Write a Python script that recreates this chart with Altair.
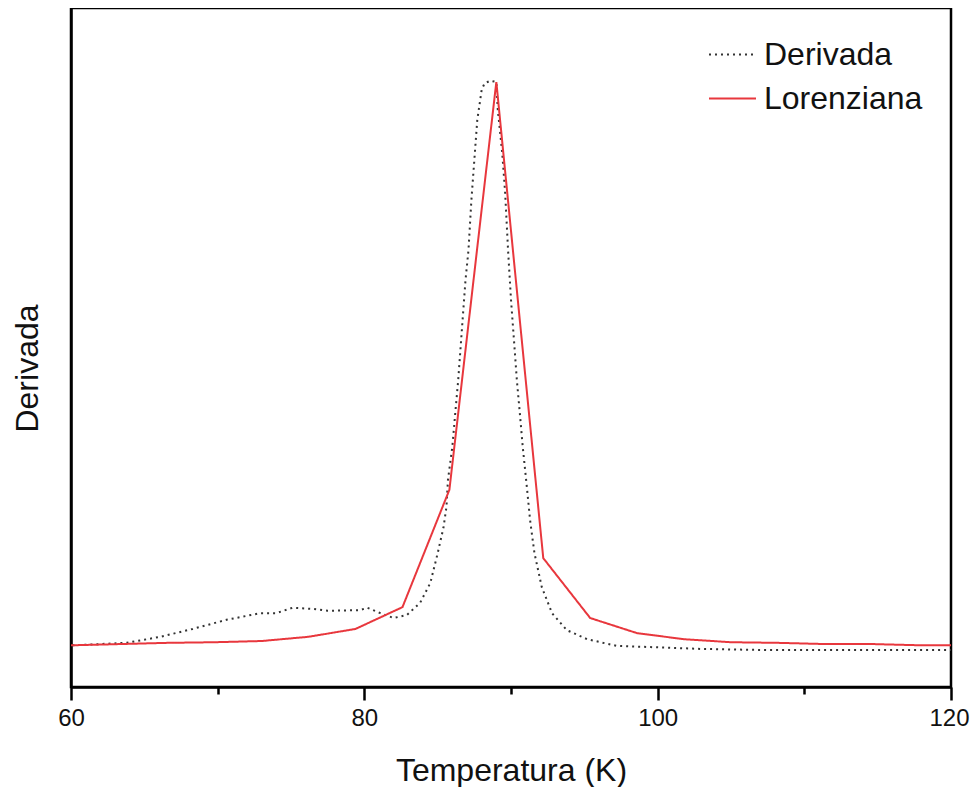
import altair as alt
import pandas as pd

# Derivada (dotted black)
der_t = [60.1, 62.0, 63.8, 66.1, 68.3, 70.6, 72.9, 74.0, 75.1, 76.5, 77.5, 79.7, 80.2,
         81.1, 82.0, 82.9, 83.8, 84.5, 85.0, 85.4, 85.6, 85.7, 86.0, 86.2, 86.4, 86.7,
         86.9, 87.1, 87.3, 87.5, 87.7, 88.0, 88.2, 88.6, 89.0, 89.1, 89.4, 89.6, 89.8,
         90.0, 90.2, 90.4, 90.6, 90.8, 91.1, 91.3, 91.6, 92.1, 92.8, 93.8, 95.2, 97.2,
         99.5, 102.9, 107.5, 112.0, 116.5, 120.0]
der_v = [0.069, 0.071, 0.073, 0.083, 0.096, 0.111, 0.122, 0.122, 0.131, 0.129, 0.126,
         0.127, 0.131, 0.122, 0.114, 0.119, 0.139, 0.172, 0.221, 0.264, 0.298, 0.342,
         0.397, 0.453, 0.507, 0.607, 0.673, 0.722, 0.805, 0.871, 0.937, 0.987, 0.998,
         1.002, 1.000, 0.954, 0.883, 0.817, 0.722, 0.640, 0.574, 0.507, 0.453, 0.397,
         0.326, 0.276, 0.221, 0.165, 0.122, 0.094, 0.079, 0.068, 0.066, 0.063, 0.061,
         0.061, 0.061, 0.061]

# Lorenziana (red)
lor_t = [57.0, 60.2, 63.4, 66.6, 69.8, 73.0, 76.2, 79.4, 82.6, 85.8, 89.0, 92.2, 95.4,
         98.6, 101.8, 105.0, 108.2, 111.4, 114.6, 117.8, 121.0]
lor_v = [0.068, 0.069, 0.071, 0.073, 0.074, 0.076, 0.083, 0.096, 0.132, 0.326, 1.000,
         0.213, 0.114, 0.089, 0.079, 0.074, 0.073, 0.071, 0.071, 0.069, 0.069]

series_names = ["Derivada", "Lorenziana"]
series_colors = ["#333333", "#e8373d"]
series_dash = [[2, 4], [1, 0]]

x_ticks = [60, 70, 80, 90, 100, 110, 120]

df = pd.concat([
    pd.DataFrame({"T": der_t, "v": der_v, "serie": "Derivada", "o": range(len(der_t))}),
    pd.DataFrame({"T": lor_t, "v": lor_v, "serie": "Lorenziana", "o": range(len(lor_t))}),
])

FONT = "Liberation Sans"

chart = alt.Chart(df).mark_line(strokeWidth=2, clip=True).encode(
    x=alt.X("T:Q",
            scale=alt.Scale(domain=[60, 120], nice=False, zero=False),
            axis=alt.Axis(values=x_ticks, title="Temperatura (K)",
                          labelExpr="datum.value % 20 === 0 ? datum.label : ''",
                          tickSize={"condition": {"test": "datum.value % 20 === 0", "value": 13}, "value": 7},
                          labelOffset={"condition": {"test": "datum.value === 120", "value": -2}, "value": 0},
                          labelPadding=6, labelFontSize=24, titleFontSize=32,
                          titleBaseline="alphabetic", titleY=93,
                          labelFlush=False, labelOverlap=False, grid=False)),
    y=alt.Y("v:Q",
            scale=alt.Scale(domain=[0, 1.1223], nice=False, zero=False),
            axis=alt.Axis(title="Derivada", labels=False, ticks=False, grid=False,
                          titleFontSize=32, titleBaseline="alphabetic",
                          titleX=-34, titleY=360)),
    color=alt.Color("serie:N", scale=alt.Scale(domain=series_names, range=series_colors),
                    legend=alt.Legend(title=None, orient="none", legendX=637, legendY=22,
                                      symbolType="stroke", symbolSize=2209,
                                      symbolStrokeWidth=2, labelFontSize=32,
                                      labelOffset=7, rowPadding=3, padding=0)),
    strokeDash=alt.StrokeDash("serie:N", scale=alt.Scale(domain=series_names, range=series_dash),
                              legend=None),
    order="o:Q",
).properties(
    width=880, height=679,
    autosize=alt.AutoSizeParams(type="none"),
    padding={"left": 63, "top": 0, "right": 19, "bottom": 100},
).configure_view(
    stroke="black", strokeWidth=2.5,
).configure_axis(
    domainColor="black", domainWidth=2.5, tickColor="black", tickWidth=2.5,
    labelColor="#111", titleColor="#111", labelFont=FONT, titleFont=FONT,
    titleFontWeight="normal",
).configure_legend(
    labelFont=FONT, labelColor="#111",
)

chart.save("out.html", embed_options={"renderer": "svg", "actions": False})
